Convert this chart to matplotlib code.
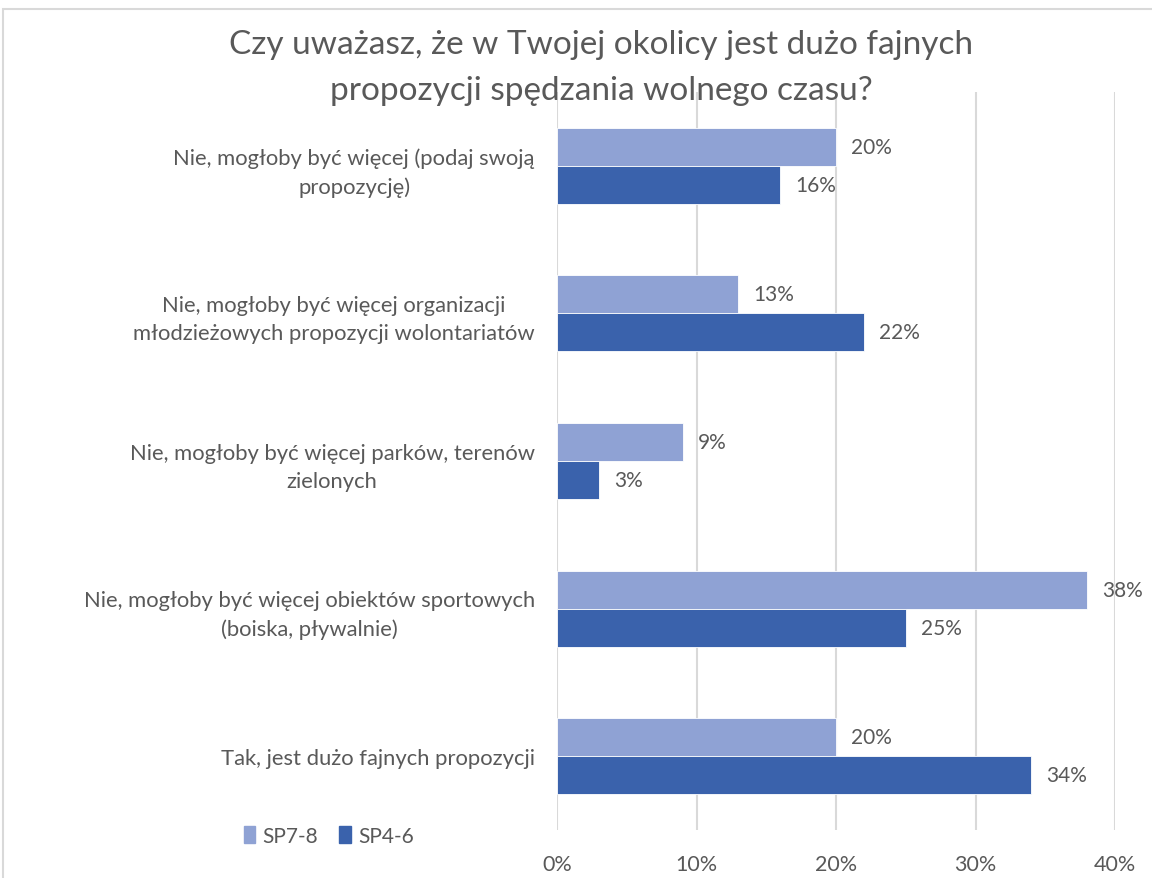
import matplotlib
matplotlib.use("Agg")
import matplotlib.pyplot as plt
from matplotlib.patches import Rectangle, Patch
from matplotlib.ticker import FuncFormatter

categories = [
    "Nie, mogłoby być więcej (podaj swoją\npropozycję)",
    "Nie, mogłoby być więcej organizacji\nmłodzieżowych propozycji wolontariatów",
    "Nie, mogłoby być więcej parków, terenów\nzielonych",
    "Nie, mogłoby być więcej obiektów sportowych\n(boiska, pływalnie)",
    "Tak, jest dużo fajnych propozycji",
]
series_names = ["SP7-8", "SP4-6"]
sp78 = [20, 13, 9, 38, 20]
sp46 = [16, 22, 3, 25, 34]
x_ticks = [0, 10, 20, 30, 40]

title = "Czy uważasz, że w Twojej okolicy jest dużo fajnych\npropozycji spędzania wolnego czasu?"

light = "#8FA2D4"
dark = "#3A62AC"
text_col = "#595959"
grid_col = "#D9D9D9"

plt.rcParams["font.family"] = ["Lato", "DejaVu Sans"]

W, H = 1152, 879
fig = plt.figure(figsize=(W / 100, H / 100), dpi=100)
fig.patch.set_facecolor("white")

# outer chart frame
fig.patches.append(Rectangle((3 / W, -0.05), 1.2, 1 - 10 / H + 0.05,
                             transform=fig.transFigure, fill=False,
                             edgecolor="#D9D9D9", linewidth=1.5))

ax = fig.add_axes([557 / W, 1 - 831 / H, (1115 - 557) / W, (831 - 93) / H])

bh = 0.258
pos = list(range(len(categories)))
ax.barh([p - bh / 2 for p in pos], sp78, height=bh, color=light,
        edgecolor="white", linewidth=0.6, label=series_names[0], zorder=3)
ax.barh([p + bh / 2 for p in pos], sp46, height=bh, color=dark,
        edgecolor="white", linewidth=0.6, label=series_names[1], zorder=3)

for p, v in zip(pos, sp78):
    ax.annotate(f"{v}%", (v, p - bh / 2), xytext=(11, 0), textcoords="offset points",
                va="center", ha="left", fontsize=15, color=text_col, zorder=4)
for p, v in zip(pos, sp46):
    ax.annotate(f"{v}%", (v, p + bh / 2), xytext=(11, 0), textcoords="offset points",
                va="center", ha="left", fontsize=15, color=text_col, zorder=4)

ax.set_xlim(0, 40)
ax.set_ylim(len(categories) - 0.5, -0.5)
ax.set_xticks(x_ticks)
ax.xaxis.set_major_formatter(FuncFormatter(lambda v, _: f"{v:.0f}%"))
ax.set_yticks(pos)
ax.set_yticklabels(categories, multialignment="center", linespacing=1.5)
ax.tick_params(axis="y", length=0, pad=16, labelsize=15.8, labelcolor=text_col)
ax.tick_params(axis="x", length=0, pad=17, labelsize=15.5, labelcolor=text_col)
ax.grid(axis="x", color=grid_col, linewidth=1.5, zorder=0)
for s in ax.spines.values():
    s.set_visible(False)

fig.text(601 / W, 1 - 68 / H, title, ha="center", va="center", fontsize=24,
         color=text_col, linespacing=1.65)

handles = [Patch(color=light), Patch(color=dark)]
fig.legend(handles, series_names, loc="center left",
           bbox_to_anchor=(244 / W, 1 - 837 / H), ncol=2, frameon=False,
           fontsize=15, labelcolor=text_col, handlelength=0.55, handleheight=0.9,
           handletextpad=0.35, columnspacing=1.0, borderaxespad=0, borderpad=0)

fig.savefig("out.png", dpi=100)
